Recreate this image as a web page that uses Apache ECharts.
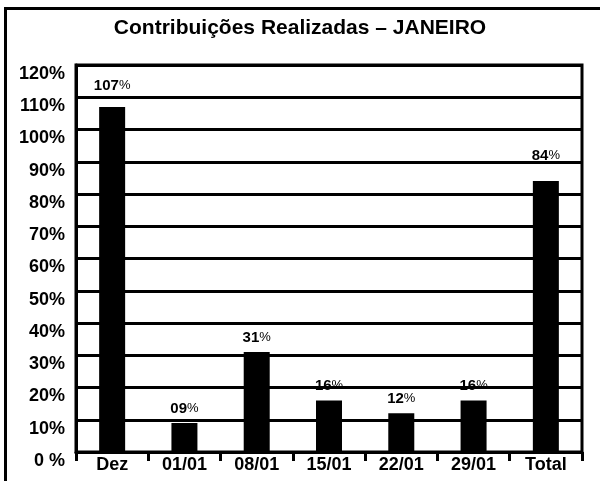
<!DOCTYPE html>
<html>
<head>
<meta charset="utf-8">
<script src="https://cdn.jsdelivr.net/npm/echarts@6/dist/echarts.min.js"></script>
<style>
  html, body { margin: 0; padding: 0; background: #fff; }
  #chart { width: 600px; height: 481px; }
</style>
</head>
<body>
<div id="chart"></div>
<script>
const categories = ["Dez", "01/01", "08/01", "15/01", "22/01", "29/01", "Total"];
const values = [107, 9, 31, 16, 12, 16, 84];
const valueLabels = ["107", "09", "31", "16", "12", "16", "84"];

const chart = echarts.init(document.getElementById("chart"));

// a couple of labels sit higher above their bars in the original
const extraGap = { 0: 14, 6: 18 };
const barData = values.map((v, i) =>
  extraGap[i] ? { value: v, label: { distance: extraGap[i] } } : v
);

const option = {
  animation: false,
  backgroundColor: "#fff",
  textStyle: { fontFamily: "Liberation Sans, Arial, sans-serif" },
  title: {
    text: "Contribuições Realizadas – JANEIRO",
    left: "center",
    top: 13,
    textStyle: { fontSize: 21, fontWeight: "bold", color: "#000", fontFamily: "Liberation Sans, Arial, sans-serif" },
  },
  graphic: [
    { type: "line", shape: { x1: 4, y1: 8.5, x2: 600, y2: 8.5 }, style: { stroke: "#000", lineWidth: 3 } },
    { type: "line", shape: { x1: 5.5, y1: 7, x2: 5.5, y2: 481 }, style: { stroke: "#000", lineWidth: 3 } },
  ],
  grid: {
    left: 76,
    right: 18,
    top: 65,
    bottom: 29,
    show: true,
    borderColor: "#000",
    borderWidth: 3,
    backgroundColor: "#fff",
  },
  xAxis: {
    type: "category",
    data: categories,
    axisLine: { lineStyle: { color: "#000", width: 3 } },
    axisTick: { show: true, length: 9, lineStyle: { color: "#000", width: 3 } },
    axisLabel: { color: "#000", fontSize: 18, fontWeight: "bold", margin: 4, interval: 0 },
  },
  yAxis: {
    type: "value",
    min: 0,
    max: 120,
    interval: 10,
    axisLine: { show: true, lineStyle: { color: "#000", width: 3 } },
    axisTick: { show: false },
    splitLine: { lineStyle: { color: "#000", width: 3 } },
    axisLabel: {
      color: "#000",
      fontSize: 18,
      fontWeight: "bold",
      verticalAlign: "top",
      margin: 11,
      formatter: v => (v === 0 ? "0 %" : v + "%"),
    },
  },
  series: [
    {
      type: "bar",
      data: barData,
      barWidth: 26,
      itemStyle: { color: "#000" },
      label: {
        show: true,
        position: "top",
        distance: 7,
        formatter: p => "{n|" + valueLabels[p.dataIndex] + "}{p|%}",
        rich: {
          n: { fontSize: 15, fontWeight: "bold", color: "#000" },
          p: { fontSize: 13, color: "#000", fontWeight: "normal" },
        },
      },
    },
  ],
};

chart.setOption(option);
</script>
</body>
</html>
